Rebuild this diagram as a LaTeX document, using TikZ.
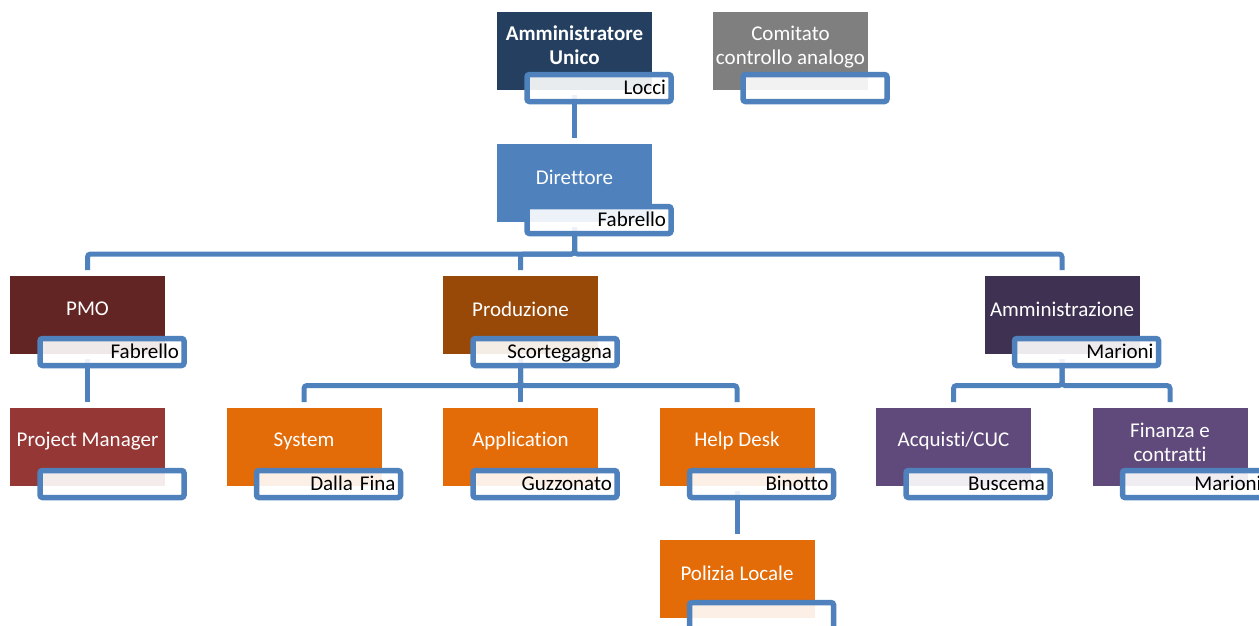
\documentclass[tikz,border=0pt]{standalone}
\usepackage{fontspec}
\setmainfont{Carlito}[Ligatures=NoCommon]
\usepackage{xcolor}
\usetikzlibrary{positioning,calc}

\definecolor{linecol}{HTML}{4F81BD}
\definecolor{amucol}{HTML}{243F60}
\definecolor{comitcol}{HTML}{7F7F7F}
\definecolor{dircol}{HTML}{4F81BD}
\definecolor{pmocol}{HTML}{632523}
\definecolor{pmcol}{HTML}{953735}
\definecolor{prodcol}{HTML}{984807}
\definecolor{orgcol}{HTML}{E36C09}
\definecolor{admcol}{HTML}{3F3151}
\definecolor{purcol}{HTML}{604A7B}

\tikzset{
  unit/.style={rectangle, minimum width=155pt, minimum height=78pt, inner sep=0pt, outer sep=0pt},
  unittext/.style={text=white, align=center, yshift=6pt, font=\fontsize{21}{23.5}\selectfont},
  namebox/.style={rectangle, draw=linecol, line width=5.5pt, rounded corners=2.5pt,
    fill=white, fill opacity=0.9, text opacity=1, minimum width=144pt, minimum height=27pt,
    text width=134pt, inner xsep=5pt, inner ysep=0pt, outer sep=0pt, align=right,
    text height=13.5pt, text depth=0pt, anchor=north east, font=\fontsize{21}{23.5}\selectfont},
  conn/.style={draw=linecol, line width=5pt, rounded corners=3pt, shorten <=5pt, shorten >=6pt}
}

\begin{document}
\begin{tikzpicture}[x=1pt, y=-1pt]
    \useasboundingbox (0,0) rectangle (1259,625);

    % top
    \node (amu) [unit, fill=amucol, label={[unittext, font=\fontsize{21}{23.5}\selectfont\bfseries]center:Amministratore\\Unico}] at (574.5,51) {};
    \node (comit) [unit, fill=comitcol, right=61pt of amu, label={[unittext, yshift=-2pt]center:Comitato\\controllo analogo}] {};
    \node (dir) [unit, fill=dircol, below=54pt of amu, label={[unittext]center:Direttore}] {};

    % second row
    \node (pmo) [unit, fill=pmocol, label={[unittext]center:PMO}] at (87.5,315) {};
    \node (prod) [unit, fill=prodcol, label={[unittext]center:Produzione}] at (520.5,315) {};
    \node (adm) [unit, fill=admcol, label={[unittext]center:Amministrazione}] at (1062,315) {};

    % third row
    \node (pm) [unit, fill=pmcol, below=54pt of pmo, label={[unittext]center:Project Manager}] {};
    \node (app) [unit, fill=orgcol, below=54pt of prod, label={[unittext]center:Application}] {};
    \node (sys) [unit, fill=orgcol, left=61.5pt of app, label={[unittext]center:System}] {};
    \node (help) [unit, fill=orgcol, right=61.5pt of app, label={[unittext]center:Help Desk}] {};
    \node (pol) [unit, fill=orgcol, below=54pt of help, label={[unittext]center:Polizia Locale}] {};
    \node (acq) [unit, fill=purcol, below=54pt of adm, xshift=-108.5pt, label={[unittext]center:Acquisti/CUC}] {};
    \node (fin) [unit, fill=purcol, below=54pt of adm, xshift=108pt, label={[unittext, yshift=-1.5pt]center:Finanza e\\contratti}] {};

    % connectors
    \coordinate (dirbus) at (574.5,254);
    \coordinate (prodbus) at (520.5,385.5);
    \coordinate (admbus) at (1062,385.5);

    \draw [conn] (amu) -- (dir);
    \draw [conn] (dir.south) -- (dirbus) -| (pmo.north);
    \draw [conn] (dir.south) -- (dirbus) -| (prod.north);
    \draw [conn] (dir.south) -- (dirbus) -| (adm.north);
    \draw [conn] (pmo) -- (pm);
    \draw [conn] (prod.south) -- (prodbus) -| (sys.north);
    \draw [conn] (prod.south) -- (prodbus) -| (app.north);
    \draw [conn] (prod.south) -- (prodbus) -| (help.north);
    \draw [conn] (help) -- (pol);
    \draw [conn] (adm.south) -- (admbus) -| (acq.north);
    \draw [conn] (adm.south) -- (admbus) -| (fin.north);

    % names
    \node (amuname) [namebox] at ($(amu.south east)+(19pt,15.5pt)$) {Locci};
    \node (comitname) [namebox] at ($(comit.south east)+(19pt,15.5pt)$) {};
    \node (dirname) [namebox] at ($(dir.south east)+(19pt,15.5pt)$) {Fabrello};
    \node (pmoname) [namebox] at ($(pmo.south east)+(19pt,15.5pt)$) {Fabrello};
    \node (prodname) [namebox] at ($(prod.south east)+(19pt,15.5pt)$) {Scortegagna};
    \node (admname) [namebox] at ($(adm.south east)+(19pt,15.5pt)$) {Marioni};
    \node (pmname) [namebox] at ($(pm.south east)+(19pt,15.5pt)$) {};
    \node (sysname) [namebox] at ($(sys.south east)+(19pt,15.5pt)$) {Dalla Fina};
    \node (appname) [namebox] at ($(app.south east)+(19pt,15.5pt)$) {Guzzonato};
    \node (helpname) [namebox] at ($(help.south east)+(19pt,15.5pt)$) {Binotto};
    \node (polname) [namebox] at ($(pol.south east)+(19pt,15.5pt)$) {};
    \node (acqname) [namebox] at ($(acq.south east)+(19pt,15.5pt)$) {Buscema};
    \node (finname) [namebox] at ($(fin.south east)+(19pt,15.5pt)$) {Marioni};
\end{tikzpicture}
\end{document}
